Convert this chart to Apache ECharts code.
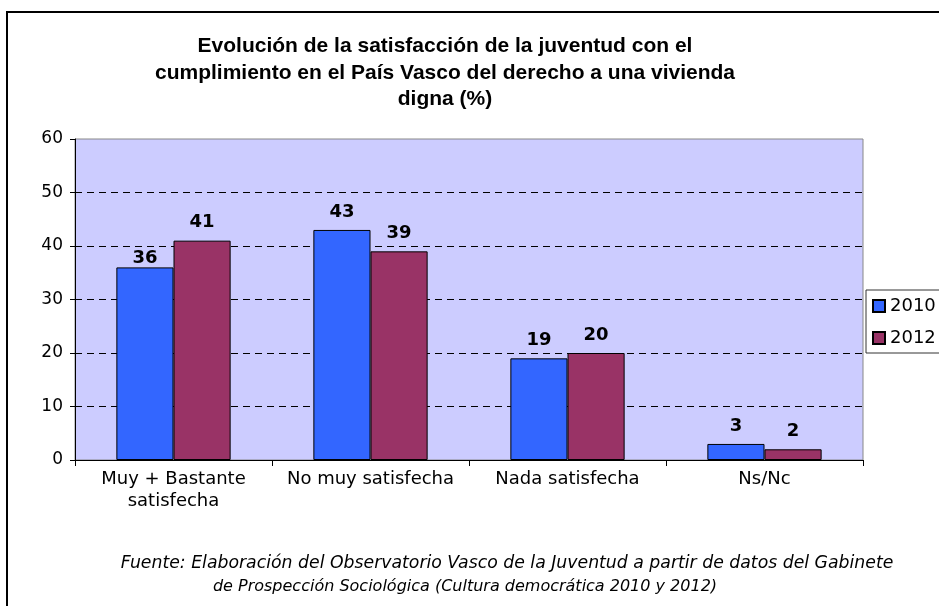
<!DOCTYPE html>
<html><head><meta charset="utf-8">
<script src="https://cdn.jsdelivr.net/npm/echarts@6/dist/echarts.min.js"></script>
<style>html,body{margin:0;padding:0;background:#fff}#c{width:939px;height:606px}</style>
</head><body><div id="c"></div>
<script>
const categories = ['Muy + Bastante\nsatisfecha', 'No muy satisfecha', 'Nada satisfecha', 'Ns/Nc'];
const values2010 = [36, 43, 19, 3];
const values2012 = [41, 39, 20, 2];
const seriesNames = ['2010', '2012'];
const yTicks = {min: 0, max: 60, interval: 10};
const titleText = 'Evolución de la satisfacción de la juventud con el\ncumplimiento en el País Vasco del derecho a una vivienda\ndigna (%)';
const sourceLine1 = 'Fuente: Elaboración del Observatorio Vasco de la Juventud a partir de datos del Gabinete';
const sourceLine2 = 'de Prospección Sociológica (Cultura democrática 2010 y 2012)';

const chart = echarts.init(document.getElementById('c'), null, {renderer: 'canvas'});
const labelStyle = {show: true, position: 'top', distance: 9, color: '#000', fontFamily: 'DejaVu Sans', fontWeight: 'bold', fontSize: 18};
const srcStyle = {fontFamily: 'DejaVu Sans', fontStyle: 'italic', fontWeight: 'normal', color: '#000'};
chart.setOption({
  animation: false,
  backgroundColor: '#fff',
  title: [{
    text: titleText, left: 440, top: 28, textAlign: 'center',
    textStyle: {fontFamily: 'Liberation Sans', fontWeight: 'bold', fontSize: 21, lineHeight: 26.5, color: '#000'}
  }, {
    text: sourceLine1, left: 507, top: 553, textAlign: 'center', padding: 0,
    textStyle: Object.assign({fontSize: 17.3, lineHeight: 22}, srcStyle)
  }, {
    text: sourceLine2, left: 465, top: 576, textAlign: 'center', padding: 0,
    textStyle: Object.assign({fontSize: 16, lineHeight: 22}, srcStyle)
  }],
  legend: {
    orient: 'vertical', left: 866, top: 290, padding: [7, 10, 6, 6],
    backgroundColor: '#fff', borderColor: '#333', borderWidth: 1,
    icon: 'rect', itemWidth: 12, itemHeight: 12, itemGap: 14,
    textStyle: {fontFamily: 'DejaVu Sans', fontSize: 18, color: '#000'},
    data: seriesNames
  },
  grid: {left: 75, right: 76, top: 139, bottom: 146, show: true, backgroundColor: '#ccccff', borderColor: '#888', borderWidth: 1},
  xAxis: {
    type: 'category', data: categories,
    axisLine: {lineStyle: {color: '#000', width: 1}},
    axisTick: {show: true, alignWithLabel: false, length: 6, lineStyle: {color: '#000'}},
    axisLabel: {fontFamily: 'DejaVu Sans', fontSize: 18, color: '#000', margin: 8, lineHeight: 22, interval: 0}
  },
  yAxis: {
    type: 'value', min: yTicks.min, max: yTicks.max, interval: yTicks.interval,
    axisLine: {show: true, lineStyle: {color: '#000', width: 1}},
    axisTick: {show: true, length: 5, lineStyle: {color: '#000'}},
    axisLabel: {fontFamily: 'DejaVu Sans', fontSize: 17, color: '#000', margin: 12},
    splitLine: {show: true, showMaxLine: false, showMinLine: false, lineStyle: {color: '#000', type: [7, 5], width: 1}}
  },
  series: [{
    name: seriesNames[0], type: 'bar',
    data: values2010.map((v, i) => i === 0 ? {value: v, label: {distance: 0}} : v),
    barGap: '0%', barCategoryGap: '42%',
    itemStyle: {color: '#3366ff', borderColor: '#000', borderWidth: 1},
    label: labelStyle
  }, {
    name: seriesNames[1], type: 'bar', data: values2012,
    itemStyle: {color: '#993366', borderColor: '#000', borderWidth: 1},
    label: labelStyle
  }],
  graphic: [{
    type: 'rect', shape: {x: 7, y: 12, width: 960, height: 620},
    style: {fill: null, stroke: '#000', lineWidth: 2}, z: 100, silent: true
  }]
});
</script></body></html>
